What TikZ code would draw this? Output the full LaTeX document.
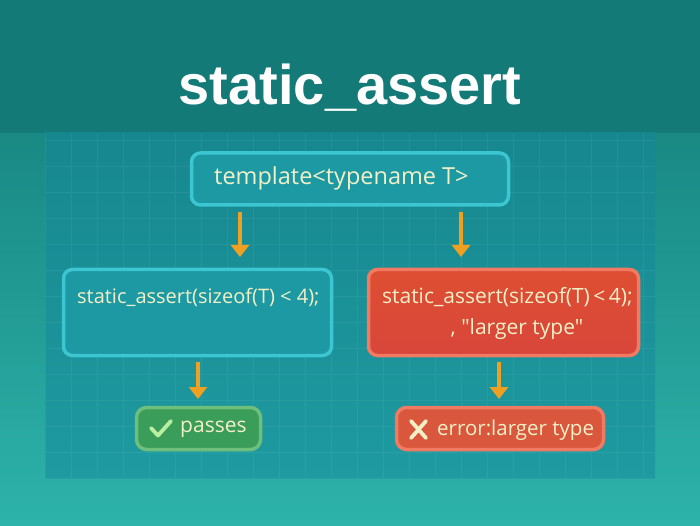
\documentclass[tikz,border=0pt]{standalone}
\usepackage{fontspec}
\setmainfont{Open Sans}[Ligatures=TeXOff]
\newfontfamily\titlefont{Liberation Sans}
\usetikzlibrary{arrows.meta}
\definecolor{bgtop}{HTML}{137A77}
\definecolor{bgbot}{HTML}{2DB3AA}
\definecolor{paneltop}{HTML}{17878F}
\definecolor{panelbot}{HTML}{1E9AA0}
\definecolor{boxfill}{HTML}{1C99A2}
\definecolor{boxline}{HTML}{3CC6D2}
\definecolor{redfill}{HTML}{D8463B}
\definecolor{redline}{HTML}{F07A62}
\definecolor{errfill}{HTML}{D9573C}
\definecolor{greenfill}{HTML}{3A9D5A}
\definecolor{greenline}{HTML}{6DBF7B}
\definecolor{cream}{HTML}{F3F0C8}
\definecolor{checkc}{HTML}{B8EFA0}
\definecolor{arrowc}{HTML}{F0A020}
\tikzset{
  x=1pt,y=1pt,
  codebox/.style={draw=boxline, line width=3.5pt, fill=boxfill, rounded corners=9pt, text=cream},
  redbox/.style={draw=redline, line width=3.5pt, top color=redfill!85!orange, bottom color=redfill, rounded corners=9pt, text=cream},
  flowarrow/.style={draw=arrowc, line width=4.2pt, -{Triangle[width=18pt,length=12pt]}},
  codetext/.style={text=cream, inner sep=0pt},
}
\begin{document}
\begin{tikzpicture}
\useasboundingbox (0,0) rectangle (700,525);
% background
\shade[top color=bgtop, bottom color=bgbot] (0,0) rectangle (700,525);
\fill[bgtop] (0,392) rectangle (700,525);
% panel
\shade[top color=paneltop, bottom color=panelbot] (45,47) rectangle (655,392);
\begin{scope}
\clip (45,47) rectangle (655,392);
\draw[white, opacity=0.06, line width=0.8pt, step=26pt, shift={(45,47)}] (0,0) grid (610,345);
\end{scope}
% title
\node (title) at (350,437) [text=white, font=\titlefont\bfseries\fontsize{56}{60}\selectfont] {static\_assert};
% top node
\node[codebox, minimum width=317pt, minimum height=52pt] (tpl) at (350,346) {};
\node[codetext, anchor=west, font=\fontsize{23.5}{26}\selectfont] (tpltxt) at (214,347) {template<typename T>};
% middle nodes
\node[codebox, minimum width=268pt, minimum height=86pt] (left) at (197.5,212.5) {};
\node[codetext, anchor=west, font=\fontsize{20}{23}\selectfont] (lefttxt) at (77,228) {static\_assert(sizeof(T) < 4);};
\node[redbox, minimum width=270pt, minimum height=86pt] (right) at (503.5,212.5) {};
\node[codetext, anchor=west, font=\fontsize{21}{24}\selectfont] (righttxt1) at (382,228) {static\_assert(sizeof(T)\,<\,4);};
\node[codetext, font=\fontsize{21}{24}\selectfont] (righttxt2) at (517,196) {, "larger type"};
% bottom nodes
\node[draw=greenline, line width=3.5pt, fill=greenfill, rounded corners=10pt, minimum width=124pt, minimum height=42pt] (pass) at (198.5,96.5) {};
\node[codetext, font=\fontsize{21}{24}\selectfont, anchor=west] (passtxt) at (180,96) {passes};
\draw[checkc, line width=3.8pt, line cap=round, line join=round] (151,97) -- (158,89.5) -- (171,104);
\node[draw=redline, line width=3.5pt, fill=errfill, rounded corners=10pt, minimum width=207pt, minimum height=42pt] (err) at (500,96.5) {};
\node[codetext, font=\fontsize{20.5}{23}\selectfont, anchor=west] (errtxt) at (437,95) {error:larger type};
\draw[cream, line width=3.8pt, line cap=round] (411,87) -- (426,104) (411,104) -- (426,87);
% arrows
\coordinate (a1s) at (240,313); \coordinate (a1e) at (240,268);
\coordinate (a2s) at (461,313); \coordinate (a2e) at (461,268);
\coordinate (a3s) at (198,163); \coordinate (a3e) at (198,126);
\coordinate (a4s) at (499,163); \coordinate (a4e) at (499,126);
\draw[flowarrow] (a1s) -- (a1e);
\draw[flowarrow] (a2s) -- (a2e);
\draw[flowarrow] (a3s) -- (a3e);
\draw[flowarrow] (a4s) -- (a4e);
\end{tikzpicture}
\end{document}
